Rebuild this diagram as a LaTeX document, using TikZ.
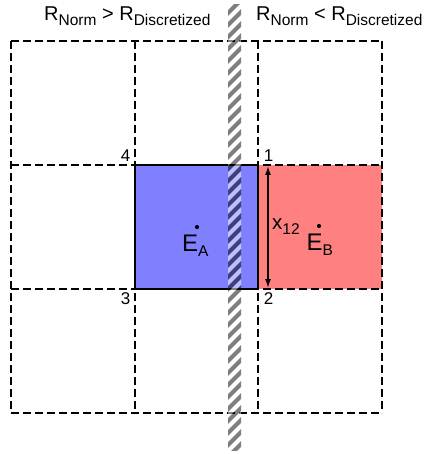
\documentclass[tikz,border=0pt]{standalone}
\usepackage{fontspec}
\setmainfont{Liberation Sans}
\usetikzlibrary{arrows.meta}
\definecolor{cellblue}{HTML}{8080FF}
\definecolor{cellred}{HTML}{FF8080}
\newcommand\mysub[1]{\raisebox{-5pt}{\fontsize{15.5}{16}\selectfont #1}}
\tikzset{
  gridline/.style={line width=2.8pt, dash pattern=on 8pt off 4pt},
  solidline/.style={line width=2.8pt},
  titletext/.style={inner sep=0pt, anchor=base west, font=\fontsize{20}{24}\selectfont},
  numtext/.style={inner sep=0pt, anchor=center, font=\fontsize{17}{19}\selectfont},
  etext/.style={inner sep=0pt, anchor=base west, font=\fontsize{24}{27}\selectfont},
  xtext/.style={inner sep=0pt, anchor=base west, font=\fontsize{20.5}{24}\selectfont},
  dotmark/.style={circle, fill=black, inner sep=0pt, minimum size=4.2pt},
  darkstripe/.style={fill=black, fill opacity=0.5},
  lightstripe/.style={fill=white, fill opacity=0.5},
}
\begin{document}
\begin{tikzpicture}[x=1pt,y=-1pt]
\useasboundingbox (0,0) rectangle (426,454);
% fills
\fill[cellblue] (135,165) rectangle (258,289);
\fill[cellred] (258,165) rectangle (382,289);
% dashed grid
\foreach \yy in {41,165,289,413} \draw[gridline] (11,\yy) -- (382,\yy);
\foreach \xx in {11,135,258,382} \draw[gridline] (\xx,41) -- (\xx,413);
% solid border of blue cell
\draw[solidline] (135,165) rectangle (258,289);
% hatched bar
\begin{scope}
  \clip (228,5) rectangle (241,450);
  \foreach \k in {0,...,38} {
    \fill[darkstripe] (228,{10+12*\k}) -- (241,{10+12*\k-13}) -- (241,{16+12*\k-13}) -- (228,{16+12*\k}) -- cycle;
    \fill[lightstripe] (228,{16+12*\k}) -- (241,{16+12*\k-13}) -- (241,{22+12*\k-13}) -- (228,{22+12*\k}) -- cycle;
  }
\end{scope}
% titles
\node[titletext] (title1) at (44,20.5) {R\mysub{Norm} > R\mysub{Discretized}};
\node[titletext] (title2) at (256,20.5) {R\mysub{Norm} < R\mysub{Discretized}};
% corner numbers
\node[numtext] (lbl4) at (125.5,155.5) {4};
\node[numtext] (lbl1) at (268.5,155.5) {1};
\node[numtext] (lbl2) at (268.5,298.5) {2};
\node[numtext] (lbl3) at (125.5,299) {3};
% E labels and dots
\node[dotmark] (dotA) at (197,227) {};
\node[dotmark] (dotB) at (319,226) {};
\node[etext] (EA) at (182,251) {E\mysub{A}};
\node[etext] (EB) at (306.5,250) {E\mysub{B}};
% x12 arrow
\coordinate (xtop) at (268,166);
\coordinate (xbot) at (268,288);
\draw[line width=1.5pt, {Latex[length=9pt,width=6pt]}-{Latex[length=9pt,width=6pt]}] (xtop) -- (xbot);
\node[xtext] (x12) at (272,229) {x\mysub{12}};
\end{tikzpicture}
\end{document}
